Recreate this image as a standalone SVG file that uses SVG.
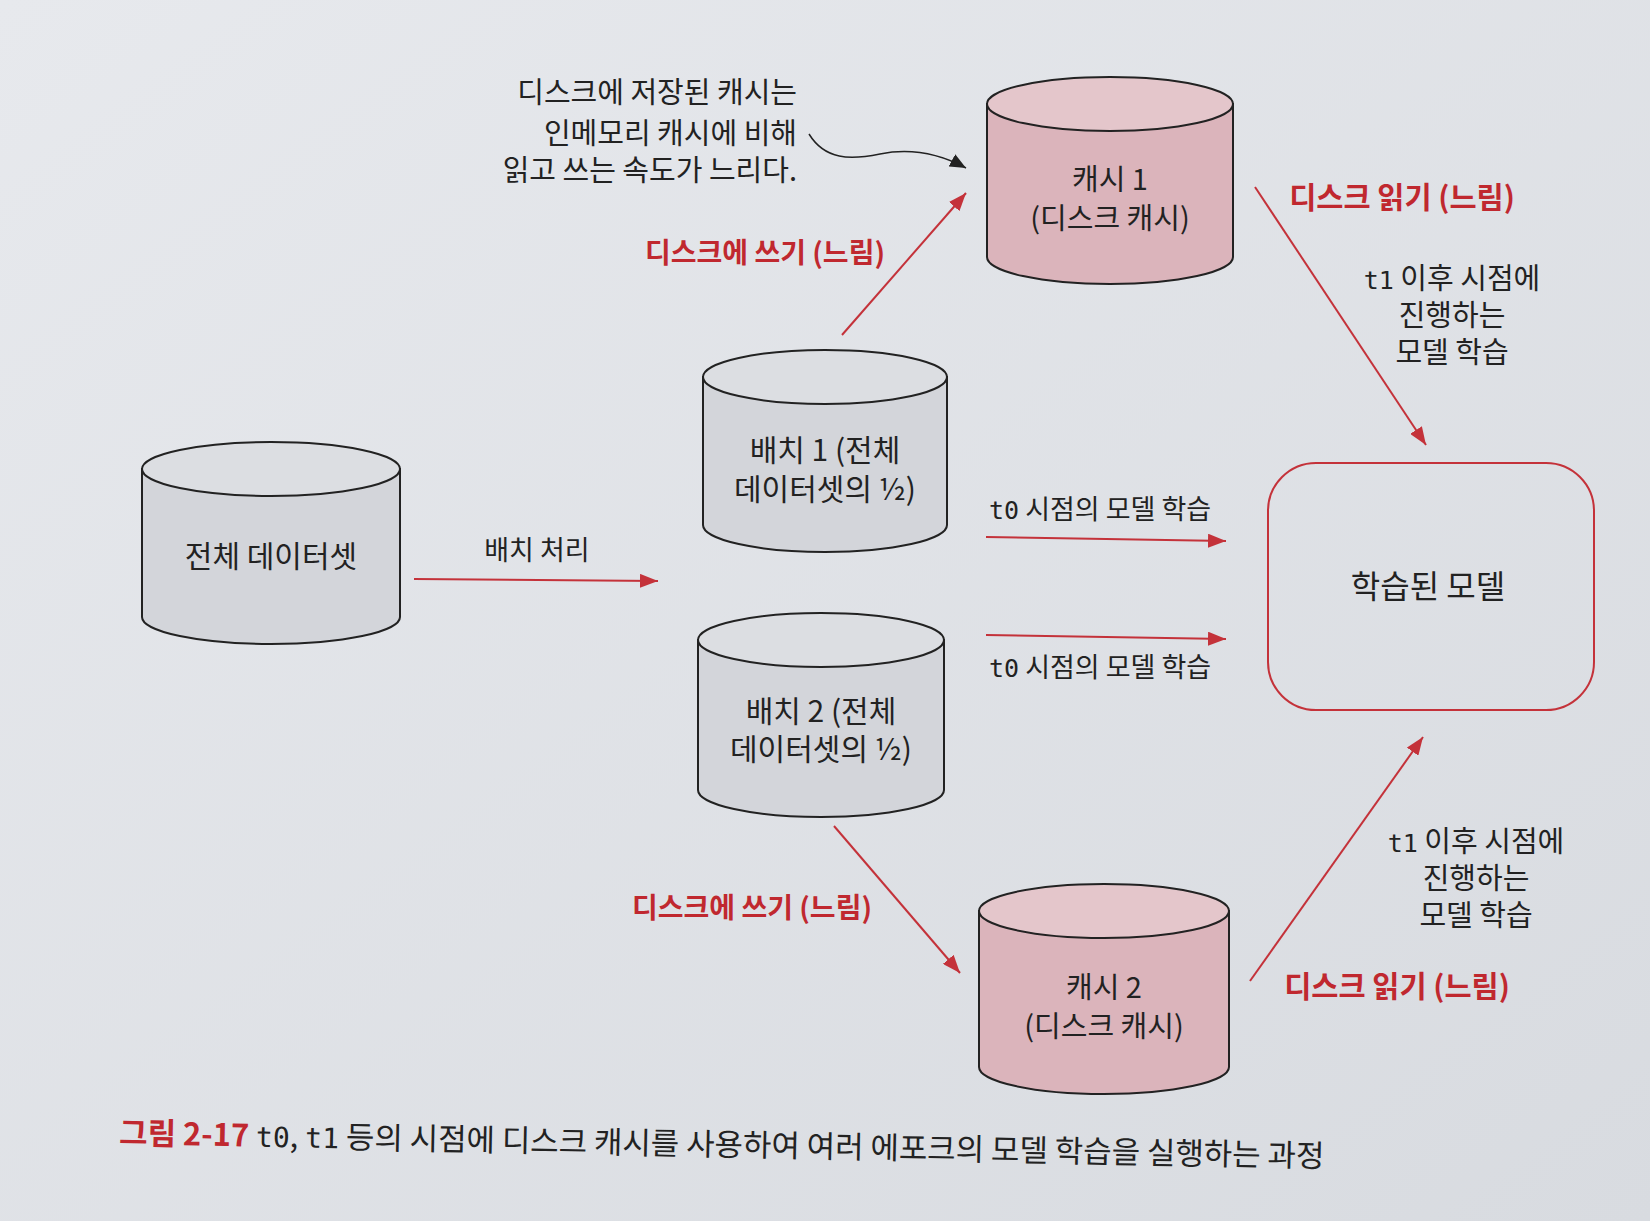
<svg xmlns="http://www.w3.org/2000/svg" width="1650" height="1221" viewBox="0 0 1650 1221">
<defs>
<linearGradient id="bg" x1="0" y1="0" x2="1" y2="1">
<stop offset="0" stop-color="#e7e9ed"/>
<stop offset="1" stop-color="#d8dbe0"/>
</linearGradient>
<marker id="ar" markerUnits="userSpaceOnUse" markerWidth="20" markerHeight="14" refX="18" refY="7" orient="auto">
<path d="M0,0 L18,7 L0,14 Z" fill="#c4323a"/>
</marker>
<marker id="ak" markerUnits="userSpaceOnUse" markerWidth="18" markerHeight="14" refX="16" refY="7" orient="auto">
<path d="M0,0 L16,7 L0,14 Z" fill="#222"/>
</marker>
<style>
.t{font-family:"Noto Sans CJK KR","Noto Sans",sans-serif;font-size:29px;fill:#222}
.n{font-size:30px}
.k{font-size:29px}
.s{font-size:27px}
.big{font-size:32px}
.cap{font-size:30.9px}
.r{fill:#c0282f;font-weight:bold}
.w{font-size:28px}
.rd{font-size:29.5px}
.m{font-family:"DejaVu Sans Mono","Liberation Mono",monospace;font-size:25px}
.cap .m{font-size:28px}
.c{text-anchor:middle}
.e{text-anchor:end}
.gb{fill:#d3d5da;stroke:#222;stroke-width:2}
.gt{fill:#dcdee2;stroke:#222;stroke-width:2}
.pb{fill:#dbb4bb;stroke:#222;stroke-width:2}
.pt{fill:#e4c6cb;stroke:#222;stroke-width:2}
.ln{stroke:#c4323a;stroke-width:2;fill:none;marker-end:url(#ar)}
</style>
</defs>
<rect width="1650" height="1221" fill="url(#bg)"/>

<g id="dataset">
<path class="gb" d="M142,469 L142,617 A129,27 0 0 0 400,617 L400,469 Z"/>
<ellipse class="gt" cx="271" cy="469" rx="129" ry="27"/>
<text class="t n c" x="271" y="567">전체 데이터셋</text>
</g>

<g id="batch1">
<path class="gb" d="M703,377 L703,525 A122,27 0 0 0 947,525 L947,377 Z"/>
<ellipse class="gt" cx="825" cy="377" rx="122" ry="27"/>
<text class="t n c" x="825" y="461">배치 1 (전체</text>
<text class="t n c" x="825" y="500">데이터셋의 ½)</text>
</g>

<g id="batch2">
<path class="gb" d="M698,640 L698,790 A123,27 0 0 0 944,790 L944,640 Z"/>
<ellipse class="gt" cx="821" cy="640" rx="123" ry="27"/>
<text class="t n c" x="821" y="722">배치 2 (전체</text>
<text class="t n c" x="821" y="760">데이터셋의 ½)</text>
</g>

<g id="cache1">
<path class="pb" d="M987,104 L987,257 A123,27 0 0 0 1233,257 L1233,104 Z"/>
<ellipse class="pt" cx="1110" cy="104" rx="123" ry="27"/>
<text class="t k c" x="1110" y="190">캐시 1</text>
<text class="t k c" x="1110" y="229">(디스크 캐시)</text>
</g>

<g id="cache2">
<path class="pb" d="M979,911 L979,1067 A125,27 0 0 0 1229,1067 L1229,911 Z"/>
<ellipse class="pt" cx="1104" cy="911" rx="125" ry="27"/>
<text class="t k c" x="1104" y="998">캐시 2</text>
<text class="t k c" x="1104" y="1037">(디스크 캐시)</text>
</g>

<g id="model">
<rect x="1268" y="463" width="326" height="247" rx="48" ry="48" fill="none" stroke="#c4323a" stroke-width="2"/>
<text class="t big c" x="1428" y="598">학습된 모델</text>
</g>

<g id="note">
<text class="t e" x="797" y="103">디스크에 저장된 캐시는</text>
<text class="t e" x="797" y="144">인메모리 캐시에 비해</text>
<text class="t e" x="797" y="181">읽고 쓰는 속도가 느리다.</text>
</g>

<g id="connectors">
<path d="M809,134 C825,160 850,160 880,154 C910,148 940,154 966,168" fill="none" stroke="#222" stroke-width="1.5" marker-end="url(#ak)"/>
<line class="ln" x1="414" y1="579" x2="658" y2="581"/>
<line class="ln" x1="842" y1="335" x2="966" y2="193"/>
<line class="ln" x1="1255" y1="187" x2="1426" y2="445"/>
<line class="ln" x1="986" y1="537" x2="1226" y2="541"/>
<line class="ln" x1="986" y1="635" x2="1226" y2="639"/>
<line class="ln" x1="834" y1="826" x2="960" y2="973"/>
<line class="ln" x1="1250" y1="981" x2="1423" y2="737"/>
</g>

<g id="labels">
<text class="t s c" x="537" y="560">배치 처리</text>
<text class="t r w c" x="765" y="263">디스크에 쓰기 (느림)</text>
<text class="t r w c" x="752" y="918">디스크에 쓰기 (느림)</text>
<text class="t r rd c" x="1402" y="208">디스크 읽기 (느림)</text>
<text class="t r rd c" x="1397" y="997">디스크 읽기 (느림)</text>
<text class="t s" x="989" y="519"><tspan class="m">t0</tspan> 시점의 모델 학습</text>
<text class="t s" x="989" y="677"><tspan class="m">t0</tspan> 시점의 모델 학습</text>
<text class="t c" x="1452" y="289"><tspan class="m">t1</tspan> 이후 시점에</text>
<text class="t c" x="1452" y="326">진행하는</text>
<text class="t c" x="1452" y="363">모델 학습</text>
<text class="t c" x="1476" y="852"><tspan class="m">t1</tspan> 이후 시점에</text>
<text class="t c" x="1476" y="889">진행하는</text>
<text class="t c" x="1476" y="926">모델 학습</text>
</g>

<g id="caption" transform="rotate(1.1 119 1144)">
<text class="t cap" x="119" y="1144"><tspan class="r">그림 2-17</tspan> <tspan class="m">t0</tspan>, <tspan class="m">t1</tspan> 등의 시점에 디스크 캐시를 사용하여 여러 에포크의 모델 학습을 실행하는 과정</text>
</g>
</svg>
